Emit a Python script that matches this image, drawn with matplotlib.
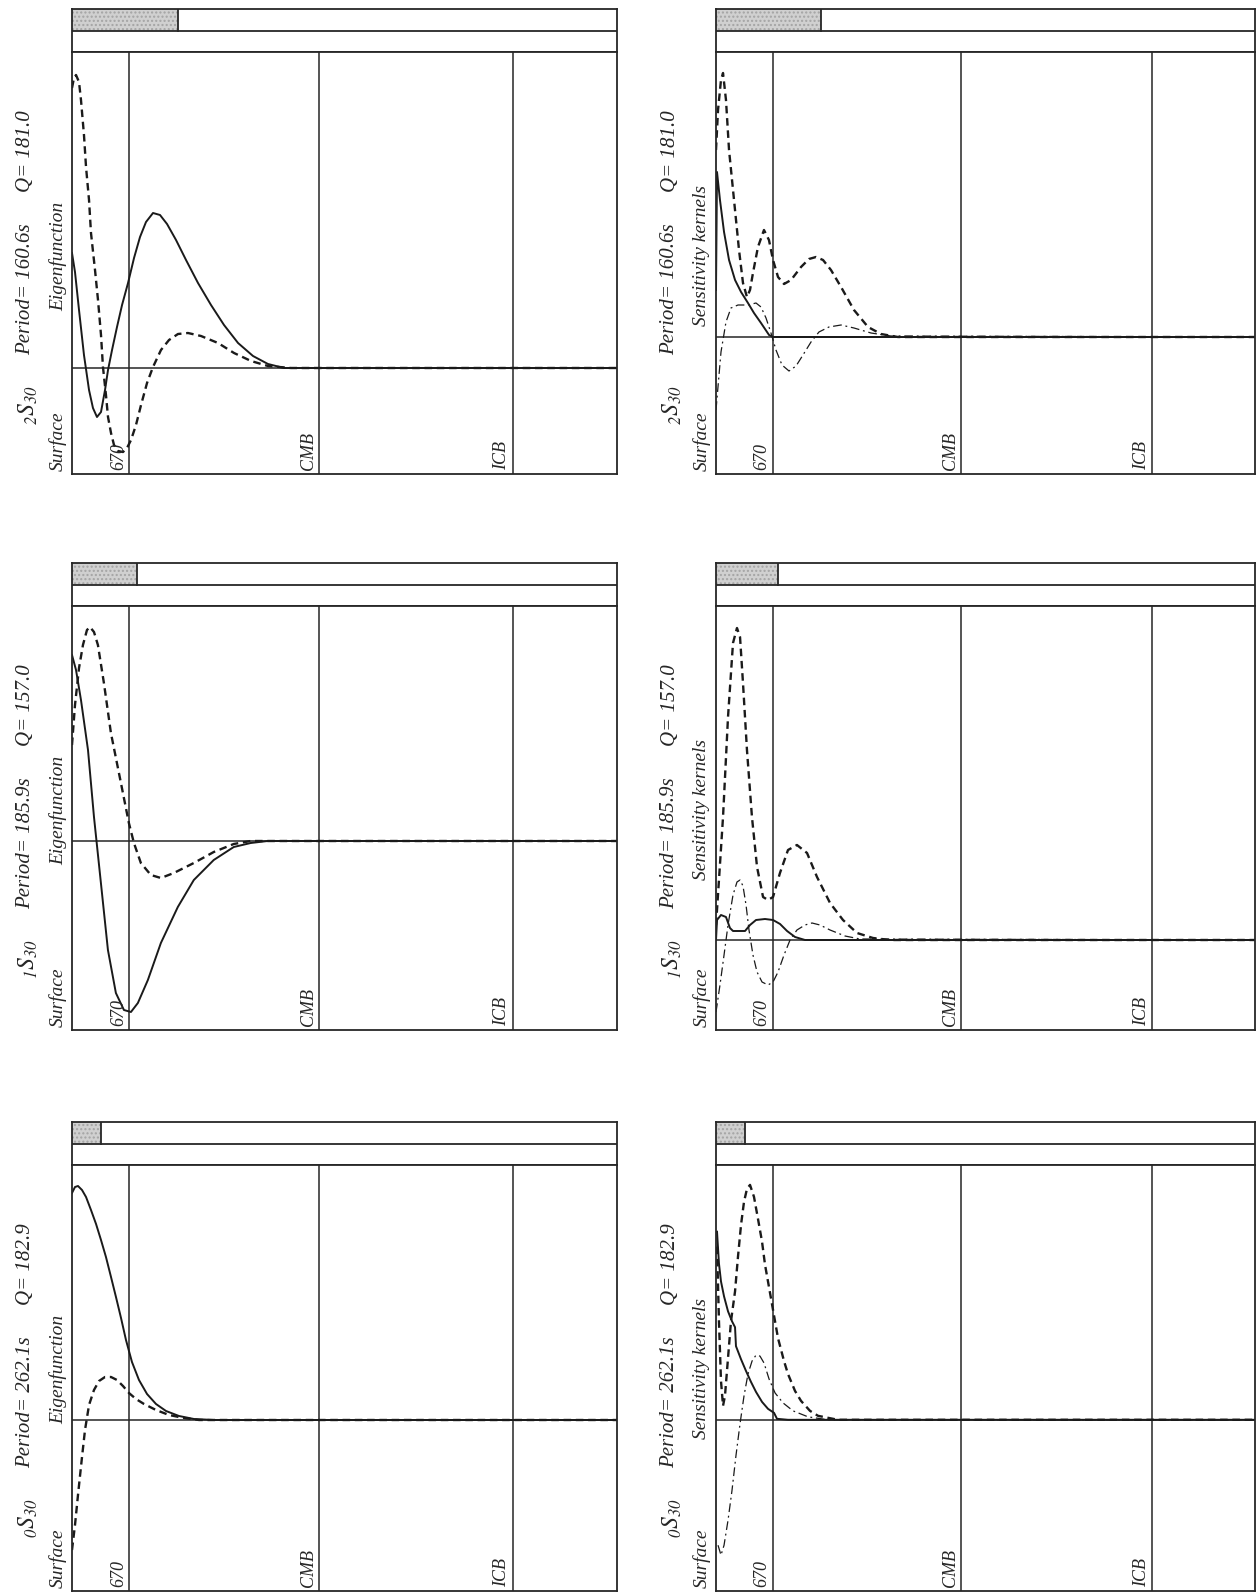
import matplotlib.pyplot as plt
from matplotlib.patches import Rectangle

plt.rcParams['font.family'] = ['Liberation Serif', 'DejaVu Serif']
plt.rcParams['font.style'] = 'italic'
plt.rcParams['mathtext.fontset'] = 'stix'

W, H = 1258, 1593
EARTH_R = 6371.0
boundaries = [670, 2891, 5150]
boundary_names = ['670', 'CMB', 'ICB']

# ---- 2S30 ----
eig2_solid_km = [0, 35, 82, 140, 199, 245, 292, 339, 386, 421, 468, 526, 585, 655, 725, 795, 865, 947,
                 1029, 1111, 1216, 1333, 1473, 1625, 1777, 1941, 2116, 2291, 2478, 6371]
eig2_solid = [1.15, 0.96, 0.58, 0.13, -0.22, -0.40, -0.49, -0.44, -0.22, -0.02, 0.18, 0.41, 0.63,
              0.85, 1.10, 1.31, 1.46, 1.55, 1.53, 1.44, 1.28, 1.08, 0.85, 0.63, 0.43, 0.25, 0.12,
              0.04, 0.0, 0.0]
eig2_dash_km = [0, 23, 47, 82, 105, 140, 164, 199, 222, 269, 304, 339, 362, 397, 421, 456, 491, 538,
                596, 643, 690, 748, 807, 877, 947, 1040, 1134, 1239, 1356, 1508, 1707, 1894, 2093,
                2291, 2560, 6371]
eig2_dash = [2.80, 2.90, 2.93, 2.86, 2.68, 2.33, 2.01, 1.68, 1.35, 0.98, 0.68, 0.33, 0.01, -0.27,
             -0.49, -0.65, -0.77, -0.83, -0.84, -0.80, -0.72, -0.57, -0.37, -0.15, 0.01, 0.18, 0.28,
             0.34, 0.35, 0.32, 0.25, 0.15, 0.07, 0.02, 0.0, 0.0]

ker2_solid_km = [0, 12, 47, 95, 154, 225, 296, 378, 449, 532, 627, 674, 6371]
ker2_solid = [0.47, 1.65, 1.37, 1.05, 0.77, 0.57, 0.45, 0.34, 0.24, 0.14, 0.02, 0.0, 0.0]
ker2_dash_km = [0, 24, 59, 83, 118, 154, 213, 272, 319, 366, 402, 437, 496, 567, 626, 674, 733, 804,
                887, 1005, 1099, 1182, 1265, 1359, 1478, 1631, 1797, 1950, 2151, 6371]
ker2_dash = [1.87, 2.27, 2.57, 2.64, 2.37, 1.87, 1.37, 0.87, 0.54, 0.40, 0.47, 0.64, 0.90, 1.07, 0.97,
             0.77, 0.60, 0.53, 0.57, 0.70, 0.78, 0.80, 0.77, 0.67, 0.50, 0.27, 0.10, 0.03, 0.0, 0.0]
ker2_dot_km = [0, 59, 118, 177, 260, 378, 473, 532, 591, 650, 709, 780, 863, 946, 1028, 1123, 1217,
               1335, 1478, 1631, 1832, 2068, 6371]
ker2_dot = [-0.73, -0.15, 0.15, 0.29, 0.32, 0.32, 0.34, 0.30, 0.19, 0.04, -0.13, -0.28, -0.34, -0.29,
            -0.18, -0.05, 0.05, 0.10, 0.12, 0.09, 0.04, 0.01, 0.0]

# ---- 1S30 ----
eig1_solid_km = [0, 47, 105, 187, 257, 338, 420, 513, 607, 689, 770, 887, 1039, 1237, 1424, 1657,
                 1891, 2089, 2287, 6371]
eig1_solid = [1.86, 1.71, 1.41, 0.91, 0.24, -0.42, -1.09, -1.52, -1.69, -1.71, -1.62, -1.39, -1.02,
              -0.66, -0.39, -0.19, -0.06, -0.02, 0.0, 0.0]
eig1_dash_km = [0, 35, 82, 128, 175, 210, 257, 303, 373, 455, 572, 665, 724, 805, 922, 1039, 1190,
                1424, 1657, 1891, 2089, 6371]
eig1_dash = [0.96, 1.36, 1.73, 1.96, 2.11, 2.14, 2.09, 1.96, 1.58, 1.08, 0.58, 0.18, -0.02, -0.22,
             -0.34, -0.37, -0.32, -0.22, -0.11, -0.03, 0.0, 0.0]

ker1_solid_km = [0, 12, 59, 118, 165, 201, 343, 402, 473, 579, 674, 757, 840, 934, 1052, 6371]
ker1_solid = [0.0, 0.20, 0.25, 0.23, 0.12, 0.09, 0.09, 0.15, 0.20, 0.21, 0.20, 0.16, 0.09, 0.03,
              0.0, 0.0]
ker1_dash_km = [0, 35, 83, 142, 201, 248, 284, 319, 366, 425, 485, 556, 615, 674, 756, 851, 957,
                1076, 1194, 1348, 1501, 1667, 1856, 2057, 6371]
ker1_dash = [0.15, 0.60, 1.23, 2.23, 2.97, 3.12, 3.03, 2.57, 1.90, 1.23, 0.73, 0.43, 0.40, 0.43,
             0.67, 0.90, 0.95, 0.87, 0.63, 0.37, 0.20, 0.07, 0.02, 0.0, 0.0]
ker1_dot_km = [0, 47, 95, 142, 201, 248, 284, 319, 355, 390, 437, 485, 544, 615, 674, 733, 804, 875,
               957, 1052, 1135, 1229, 1348, 1525, 1702, 6371]
ker1_dot = [-0.72, -0.45, -0.15, 0.15, 0.45, 0.58, 0.60, 0.54, 0.35, 0.10, -0.15, -0.32, -0.42,
            -0.45, -0.42, -0.32, -0.15, 0.0, 0.10, 0.15, 0.17, 0.15, 0.10, 0.04, 0.01, 0.0]

# ---- 0S30 ----
eig0_solid_km = [0, 35, 70, 117, 164, 222, 281, 339, 397, 456, 514, 573, 631, 701, 783, 877, 982,
                 1099, 1251, 1426, 1660, 6371]
eig0_solid = [2.27, 2.33, 2.34, 2.30, 2.23, 2.10, 1.96, 1.80, 1.63, 1.43, 1.23, 1.02, 0.80, 0.58,
              0.40, 0.26, 0.16, 0.09, 0.04, 0.01, 0.0, 0.0]
eig0_dash_km = [0, 35, 70, 117, 152, 199, 257, 316, 386, 456, 526, 596, 666, 748, 842, 982, 1134,
                1309, 1485, 6371]
eig0_dash = [-1.30, -1.05, -0.75, -0.37, -0.10, 0.15, 0.30, 0.39, 0.43, 0.43, 0.40, 0.34, 0.27,
             0.21, 0.16, 0.10, 0.05, 0.02, 0.0, 0.0]

ker0_solid_km = [12, 35, 59, 95, 142, 189, 225, 236, 295, 355, 414, 473, 544, 615, 686, 721, 851, 6371]
ker0_solid = [1.89, 1.57, 1.39, 1.24, 1.09, 0.99, 0.93, 0.74, 0.61, 0.49, 0.38, 0.28, 0.18, 0.11,
              0.07, 0.01, 0.0, 0.0]
ker0_dash_km = [12, 35, 59, 83, 106, 142, 177, 225, 260, 296, 331, 366, 402, 449, 496, 544, 579, 650,
                733, 804, 851, 934, 1005, 1111, 1206, 1442, 6371]
ker0_dash = [1.74, 0.99, 0.39, 0.14, 0.24, 0.62, 0.99, 1.29, 1.64, 1.96, 2.19, 2.32, 2.36, 2.24,
             2.02, 1.79, 1.56, 1.22, 0.82, 0.59, 0.46, 0.29, 0.19, 0.09, 0.04, 0.0, 0.0]
ker0_dot_km = [24, 59, 95, 142, 189, 236, 284, 331, 378, 426, 473, 520, 568, 627, 698, 792, 910,
               1087, 1324, 6371]
ker0_dot = [-1.26, -1.36, -1.26, -1.01, -0.71, -0.36, -0.04, 0.24, 0.46, 0.59, 0.65, 0.64, 0.57,
            0.41, 0.27, 0.17, 0.09, 0.03, 0.0, 0.0]

mode_names = [r'${}_{2}S_{30}$', r'${}_{1}S_{30}$', r'${}_{0}S_{30}$']
periods = ['160.6s', '185.9s', '262.1s']
q_values = ['181.0', '157.0', '182.9']
header_fill = [[0.195, 0.195], [0.119, 0.115], [0.053, 0.054]]
ylims = [[(-1.06, 3.16), (-1.37, 2.85)],
         [(-1.89, 2.35), (-0.90, 3.34)],
         [(-1.71, 2.55), (-1.72, 2.56)]]

curves = [
    [[(eig2_solid_km, eig2_solid, 'solid'), (eig2_dash_km, eig2_dash, 'dash')],
     [(ker2_solid_km, ker2_solid, 'solid'), (ker2_dash_km, ker2_dash, 'dash'), (ker2_dot_km, ker2_dot, 'dot')]],
    [[(eig1_solid_km, eig1_solid, 'solid'), (eig1_dash_km, eig1_dash, 'dash')],
     [(ker1_solid_km, ker1_solid, 'solid'), (ker1_dash_km, ker1_dash, 'dash'), (ker1_dot_km, ker1_dot, 'dot')]],
    [[(eig0_solid_km, eig0_solid, 'solid'), (eig0_dash_km, eig0_dash, 'dash')],
     [(ker0_solid_km, ker0_solid, 'solid'), (ker0_dash_km, ker0_dash, 'dash'), (ker0_dot_km, ker0_dot, 'dot')]],
]
kind_names = ['Eigenfunction', 'Sensitivity kernels']

# panel geometry in pixels
col_x = [(72, 617), (716, 1255)]
row_y = [(9, 474), (563, 1030), (1122, 1591)]
bar_h = 21.5

ink = '#262626'
styles = {'solid': dict(ls='-', lw=1.4),
          'dash': dict(ls=(0, (3.2, 2.0)), lw=1.7),
          'dot': dict(ls=(0, (7, 3, 1.5, 3)), lw=0.9)}


def box(x0, y0, x1, y1):
    return [x0 / W, 1 - y1 / H, (x1 - x0) / W, (y1 - y0) / H]


def pt(x, y):
    return x / W, 1 - y / H


def side_text(x, y, s, size, **kw):
    # vertical text read bottom-to-top, anchored at (x, y)
    fig.text(*pt(x, y), s, rotation=90, rotation_mode='anchor', va='center',
             fontsize=size, color=ink, **kw)


fig = plt.figure(figsize=(W / 100, H / 100), dpi=100)
fig.patch.set_facecolor('white')

for r in range(3):
    top, bottom = row_y[r]
    main_top = top + 2 * bar_h
    for c in range(2):
        left, right = col_x[c]

        # two-row header strip with shaded fill
        hx = fig.add_axes(box(left, top, right, main_top))
        hx.set_xlim(0, 1)
        hx.set_ylim(0, 2)
        hx.set_xticks([])
        hx.set_yticks([])
        for s in hx.spines.values():
            s.set_color(ink)
            s.set_linewidth(1.3)
        hx.axhline(1, color=ink, lw=1.3)
        f = header_fill[r][c]
        hx.add_patch(Rectangle((0, 1), f, 1, facecolor='#d0d0d0', edgecolor='#a4a4a4',
                               hatch='....', lw=0))
        hx.plot([f, f], [1, 2], color=ink, lw=1.3)

        # main plot: depth from surface to centre
        ax = fig.add_axes(box(left, main_top, right, bottom))
        ax.set_xlim(0, EARTH_R)
        ax.set_ylim(*ylims[r][c])
        ax.set_xticks([])
        ax.set_yticks([])
        for s in ax.spines.values():
            s.set_color(ink)
            s.set_linewidth(1.3)
        ax.axhline(0, color=ink, lw=1.1)
        for b in boundaries:
            ax.axvline(b, color=ink, lw=1.1)
        for xs, ys, kind in curves[r][c]:
            ax.plot(xs, ys, color='#1a1a1a', **styles[kind])

        # boundary labels next to each line
        for b, name in zip(boundaries, boundary_names):
            lx = left + b / EARTH_R * (right - left)
            fig.text(*pt(lx - 2, bottom - 4), name, rotation=90, rotation_mode='anchor',
                     ha='left', va='bottom', fontsize=13, color=ink)

        # mode, period and Q written up the left side
        side_text(left - 46, top + 101, 'Q= ' + q_values[r], 15, ha='right')
        side_text(left - 46, top + 214, 'Period= ' + periods[r], 15, ha='right')
        side_text(left - 44, top + 376, mode_names[r], 17, ha='right')
        kind_top = top + (193 if c == 0 else 176)
        side_text(left - 14, kind_top, kind_names[c], 14, ha='right')
        side_text(left - 14, bottom - 3, 'Surface', 14, ha='left')

fig.savefig('out.png', dpi=100, facecolor='white')
